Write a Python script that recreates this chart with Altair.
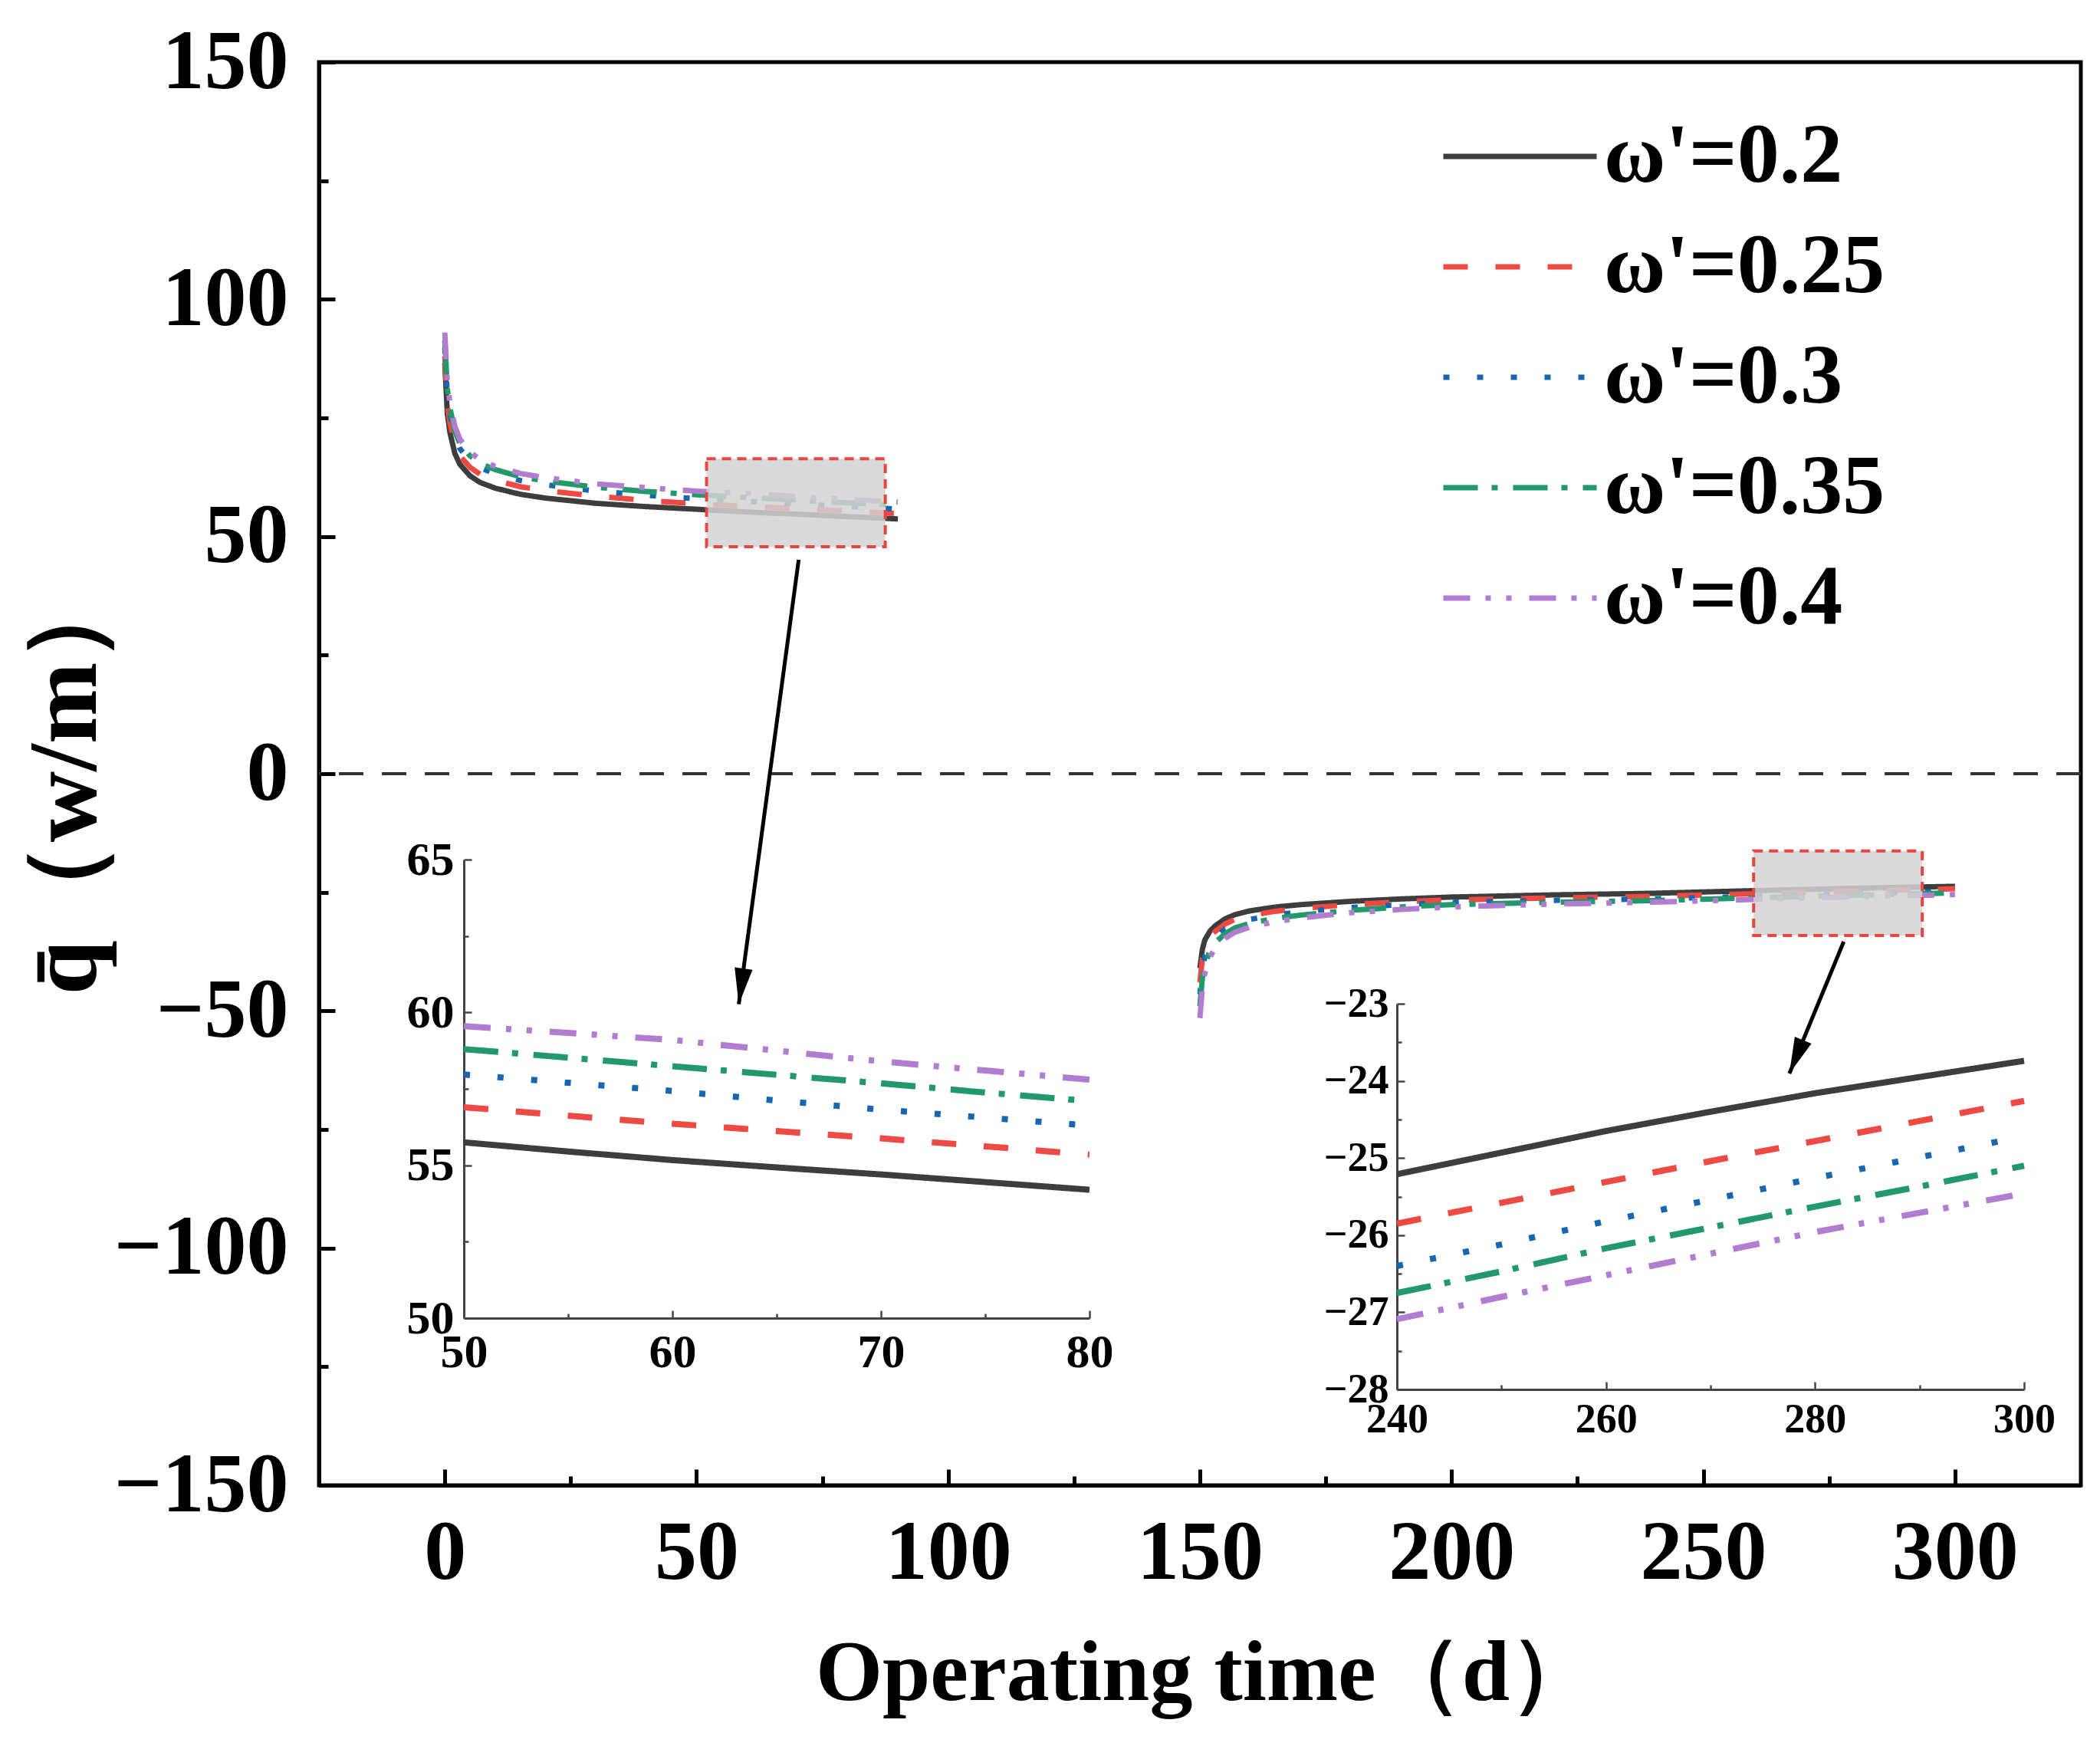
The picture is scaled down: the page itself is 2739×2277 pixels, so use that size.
import math
import altair as alt
import pandas as pd

# ---------------- data ----------------
SERIES = ["ω'=0.2", "ω'=0.25", "ω'=0.3", "ω'=0.35", "ω'=0.4"]
COLORS = ["#3d3d3d", "#ee4a43", "#1766b2", "#22996a", "#b27cd0"]
DASHES = [[1, 0], [32, 36], [8, 36], [45, 18, 8, 20], [35, 20, 7, 20, 7, 23]]

# heating period (days)
t_heat = [0, 0.5, 1, 2, 3, 5, 7, 10, 15, 20, 30, 40, 50, 55, 60, 65, 70, 75, 80, 85, 90]
q_heat_020 = [86.5, 76.0, 72.0, 67.5, 65.2, 62.8, 61.4, 60.2, 58.9, 58.1, 57.0, 56.3, 55.75, 55.45, 55.17, 54.93, 54.70, 54.45, 54.20, 53.95, 53.70]
q_heat_025 = [88.0, 78.0, 74.0, 69.4, 67.0, 64.6, 63.1, 61.9, 60.5, 59.7, 58.5, 57.6, 56.90, 56.62, 56.36, 56.12, 55.88, 55.62, 55.35, 55.10, 54.85]
q_heat_030 = [89.8, 79.8, 75.8, 71.0, 68.5, 66.0, 64.5, 63.2, 61.8, 60.9, 59.6, 58.7, 57.97, 57.70, 57.43, 57.12, 56.82, 56.56, 56.30, 56.05, 55.80]
q_heat_035 = [91.4, 81.2, 77.2, 72.2, 69.6, 67.0, 65.4, 64.1, 62.6, 61.7, 60.4, 59.5, 58.80, 58.52, 58.24, 57.96, 57.68, 57.38, 57.10, 56.84, 56.58]
q_heat_040 = [93.0, 82.5, 78.4, 73.2, 70.5, 67.8, 66.2, 64.8, 63.3, 62.4, 61.1, 60.3, 59.55, 59.33, 59.10, 58.75, 58.40, 58.10, 57.80, 57.55, 57.30]

# cooling period (days)
t_cool = [150, 150.5, 151, 152, 153, 155, 157, 160, 165, 170, 180, 190, 200, 220, 240, 250, 260, 270, 280, 290, 300]
q_cool_020 = [-41.0, -37.0, -35.0, -33.2, -32.1, -30.6, -29.7, -28.9, -28.1, -27.6, -26.9, -26.4, -26.0, -25.55, -25.21, -24.93, -24.65, -24.40, -24.16, -23.95, -23.74]
q_cool_025 = [-44.0, -39.0, -36.8, -34.5, -33.3, -31.7, -30.7, -29.9, -29.0, -28.4, -27.6, -27.0, -26.6, -26.20, -25.85, -25.58, -25.31, -25.04, -24.78, -24.52, -24.26]
q_cool_030 = [-46.5, -41.0, -38.5, -35.8, -34.5, -32.7, -31.6, -30.7, -29.8, -29.1, -28.2, -27.6, -27.1, -26.70, -26.40, -26.12, -25.82, -25.54, -25.26, -24.99, -24.72]
q_cool_035 = [-49.0, -43.0, -40.3, -37.2, -35.7, -33.7, -32.5, -31.5, -30.5, -29.8, -28.8, -28.1, -27.6, -27.10, -26.75, -26.47, -26.17, -25.90, -25.63, -25.37, -25.10]
q_cool_040 = [-51.5, -45.0, -42.0, -38.6, -36.9, -34.7, -33.4, -32.3, -31.2, -30.4, -29.3, -28.6, -28.1, -27.50, -27.09, -26.80, -26.52, -26.24, -25.96, -25.71, -25.46]

HEAT = [q_heat_020, q_heat_025, q_heat_030, q_heat_035, q_heat_040]
COOL = [q_cool_020, q_cool_025, q_cool_030, q_cool_035, q_cool_040]

# zoom boxes and arrows (data coordinates of main plot)
box_x1 = [52.0, 260.0]
box_x2 = [87.5, 293.5]
box_y1 = [47.85, -34.1]
box_y2 = [66.4, -16.3]
arrow_x1 = [70.3, 277.9]
arrow_y1 = [45.1, -35.4]
arrow_x2 = [58.4, 267.1]
arrow_y2 = [-48.6, -63.2]

x_major = [0, 50, 100, 150, 200, 250, 300]
x_minor = [25, 75, 125, 175, 225, 275]
y_major = [-150, -100, -50, 0, 50, 100, 150]
y_minor = [-125, -75, -25, 25, 75, 125]

in1_x_major = [50, 60, 70, 80]
in1_x_minor = [55, 65, 75]
in1_y_major = [50, 55, 60, 65]
in1_y_minor = [52.5, 57.5, 62.5]
in2_x_major = [240, 260, 280, 300]
in2_x_minor = [250, 270, 290]
in2_y_major = [-28, -27, -26, -25, -24, -23]
in2_y_minor = [-27.5, -26.5, -25.5, -24.5, -23.5]

# ---------------- layout ----------------
W, H = 2298, 1856
FONT = "Liberation Serif"
X_DOM = [-25, 325]
Y_DOM = [-150, 150]
IN1_XR, IN1_YR = [189, 1005], [1638, 1040]
IN2_XR, IN2_YR = [1406, 2224], [1731, 1228]

rows = []
for name, h, c in zip(SERIES, HEAT, COOL):
    for t, v in zip(t_heat, h):
        rows.append({"series": name, "t": t, "q": v, "phase": "heat"})
    for t, v in zip(t_cool, c):
        rows.append({"series": name, "t": t, "q": v, "phase": "cool"})
df = pd.DataFrame(rows)

box_df = pd.DataFrame({"x1": box_x1, "x2": box_x2, "y1": box_y1, "y2": box_y2})

px_x = W / (X_DOM[1] - X_DOM[0])
px_y = H / (Y_DOM[1] - Y_DOM[0])
angles = []
for a, b, c, d in zip(arrow_x1, arrow_y1, arrow_x2, arrow_y2):
    dx = (c - a) * px_x
    dy = -(d - b) * px_y
    angles.append(math.degrees(math.atan2(dx, -dy)) % 360)
arrow_df = pd.DataFrame({"x1": arrow_x1, "y1": arrow_y1, "x2": arrow_x2, "y2": arrow_y2, "ang": angles})


def sc(dom, rng=None):
    kw = dict(domain=dom, nice=False, zero=False)
    if rng is not None:
        kw["range"] = rng
    return alt.Scale(**kw)


def inset_axis(orient, offset, values, size, lsize, pad, labels=True, domain=True):
    return alt.Axis(
        orient=orient, offset=offset, values=values,
        tickSize={"expr": str(-size)}, tickWidth=2.5, tickColor="#444",
        domain=domain, domainColor="#444", domainWidth=3,
        labels=labels, labelFontSize=lsize, labelFont=FONT, labelFontWeight="bold",
        labelColor="black", labelPadding=size + pad, labelFlush=False, labelOverlap=False,
        labelLimit=0, grid=False, title=None,
    )


def tick_layer(xdom, xr, ydom, yr, xvals, yvals, xoff, yoff, size, width, color):
    d = pd.DataFrame({"a": [xdom[0]], "b": [ydom[0]]})
    ax_common = dict(labels=False, domain=False, tickSize={"expr": str(-size)},
                     tickWidth=width, tickColor=color, grid=False, title=None)
    return alt.Chart(d).mark_point(opacity=0).encode(
        x=alt.X("a:Q", scale=sc(xdom, xr),
                axis=alt.Axis(orient="bottom", offset=xoff, values=xvals, **ax_common)),
        y=alt.Y("b:Q", scale=sc(ydom, yr),
                axis=alt.Axis(orient="left", offset=yoff, values=yvals, **ax_common)),
    )


LEG = alt.Legend(
    title=None, orient="none", legendX=1463, legendY=51, padding=0,
    symbolType="stroke", symbolSize=40000, symbolStrokeWidth=7,
    labelFontSize=110, labelFont=FONT, labelFontWeight="bold", labelColor="black",
    labelOffset=6, clipHeight=144, rowPadding=0, labelLimit=0,
)
COLOR_SCALE = alt.Scale(domain=SERIES, range=COLORS)
DASH_SCALE = alt.Scale(domain=SERIES, range=DASHES)

main_x_axis = alt.Axis(
    orient="bottom", values=x_major, title="Operating time（d）",
    titleX=1156, titleY=245, titleFontSize=112, titleFont=FONT, titleFontWeight="bold",
    titleColor="black", titleAlign="center", titleBaseline="middle", titleLimit=0,
    labelFontSize=110, labelFont=FONT, labelFontWeight="bold", labelColor="black",
    labelPadding=55, labelFlush=False, labelOverlap=False, labelLimit=0,
    tickSize={"expr": "-21"}, tickWidth=5, tickColor="black",
    domainColor="black", domainWidth=5, grid=False,
)
main_y_axis = alt.Axis(
    orient="left", values=y_major, title="q̄（w/m）",
    titleX=-330, titleY=935, titleAngle=270, titleFontSize=128, titleFont=FONT,
    titleFontWeight="bold", titleColor="black", titleAlign="center", titleBaseline="middle",
    titleLimit=0,
    labelFontSize=110, labelFont=FONT, labelFontWeight="bold", labelColor="black",
    labelPadding=61, labelFlush=False, labelOverlap=False, labelLimit=0,
    tickSize={"expr": "-21"}, tickWidth=5, tickColor="black",
    domainColor="black", domainWidth=5, grid=False,
)

zero = alt.Chart(pd.DataFrame({"q": [0]})).mark_rule(
    color="#333", strokeWidth=4, strokeDash=[32, 24]
).encode(y=alt.Y("q:Q", scale=sc(Y_DOM), axis=None))

curves = alt.Chart(df).mark_line(strokeWidth=7).encode(
    x=alt.X("t:Q", scale=sc(X_DOM), axis=main_x_axis),
    y=alt.Y("q:Q", scale=sc(Y_DOM), axis=main_y_axis),
    color=alt.Color("series:N", scale=COLOR_SCALE, legend=LEG, sort=SERIES),
    strokeDash=alt.StrokeDash("series:N", scale=DASH_SCALE, legend=LEG, sort=SERIES),
    detail="phase:N",
)

boxes = alt.Chart(box_df).mark_rect(
    fill="#d3d3d3", fillOpacity=0.85, stroke="#e8463e", strokeWidth=4, strokeDash=[12, 8]
).encode(
    x=alt.X("x1:Q", scale=sc(X_DOM), axis=None), x2="x2:Q",
    y=alt.Y("y1:Q", scale=sc(Y_DOM), axis=None), y2="y2:Q",
)

arrow_lines = alt.Chart(arrow_df).mark_rule(color="black", strokeWidth=5).encode(
    x=alt.X("x1:Q", scale=sc(X_DOM), axis=None), x2="x2:Q",
    y=alt.Y("y1:Q", scale=sc(Y_DOM), axis=None), y2="y2:Q",
)
arrow_heads = alt.Chart(arrow_df).mark_point(
    shape="M0,0L0.5,2L-0.5,2Z", filled=True, size=2209, color="black", opacity=1
).encode(
    x=alt.X("x2:Q", scale=sc(X_DOM), axis=None),
    y=alt.Y("y2:Q", scale=sc(Y_DOM), axis=None),
    angle=alt.Angle("ang:Q", scale=None),
)

main_minor = tick_layer(X_DOM, None, Y_DOM, None, x_minor, y_minor, 0, 0, 12, 5, "black")

inset1 = alt.Chart(df).transform_filter(
    "datum.phase == 'heat' && datum.t >= 50 && datum.t <= 80"
).mark_line(strokeWidth=8).encode(
    x=alt.X("t:Q", scale=sc([50, 80], IN1_XR),
            axis=inset_axis("bottom", IN1_YR[0] - H, in1_x_major, 10, 62, 14)),
    y=alt.Y("q:Q", scale=sc([50, 65], IN1_YR),
            axis=inset_axis("left", -IN1_XR[0], in1_y_major, 10, 62, 13)),
    color=alt.Color("series:N", scale=COLOR_SCALE, legend=None),
    strokeDash=alt.StrokeDash("series:N", scale=DASH_SCALE, legend=None),
)
inset1_minor = tick_layer([50, 80], IN1_XR, [50, 65], IN1_YR, in1_x_minor, in1_y_minor,
                          IN1_YR[0] - H, -IN1_XR[0], 6, 2.5, "#444")

inset2 = alt.Chart(df).transform_filter(
    "datum.phase == 'cool' && datum.t >= 240 && datum.t <= 300"
).mark_line(strokeWidth=8).encode(
    x=alt.X("t:Q", scale=sc([240, 300], IN2_XR),
            axis=inset_axis("bottom", IN2_YR[0] - H, in2_x_major, 10, 54, 12)),
    y=alt.Y("q:Q", scale=sc([-28, -23], IN2_YR),
            axis=inset_axis("left", -IN2_XR[0], in2_y_major, 10, 54, 11)),
    color=alt.Color("series:N", scale=COLOR_SCALE, legend=None),
    strokeDash=alt.StrokeDash("series:N", scale=DASH_SCALE, legend=None),
)
inset2_minor = tick_layer([240, 300], IN2_XR, [-28, -23], IN2_YR, in2_x_minor, in2_y_minor,
                          IN2_YR[0] - H, -IN2_XR[0], 6, 2.5, "#444")

chart = alt.layer(
    zero, curves, boxes, arrow_lines, arrow_heads, main_minor,
    inset1, inset1_minor, inset2, inset2_minor,
).resolve_scale(
    x="independent", y="independent"
).properties(
    width=W, height=H,
    autosize=alt.AutoSizeParams(type="none"),
    padding={"left": 408, "top": 73, "right": 17, "bottom": 330},
    background="white",
).configure(
    font=FONT
).configure_view(
    stroke="black", strokeWidth=5
)

chart.save("out.html", embed_options={"renderer": "svg", "actions": False})
